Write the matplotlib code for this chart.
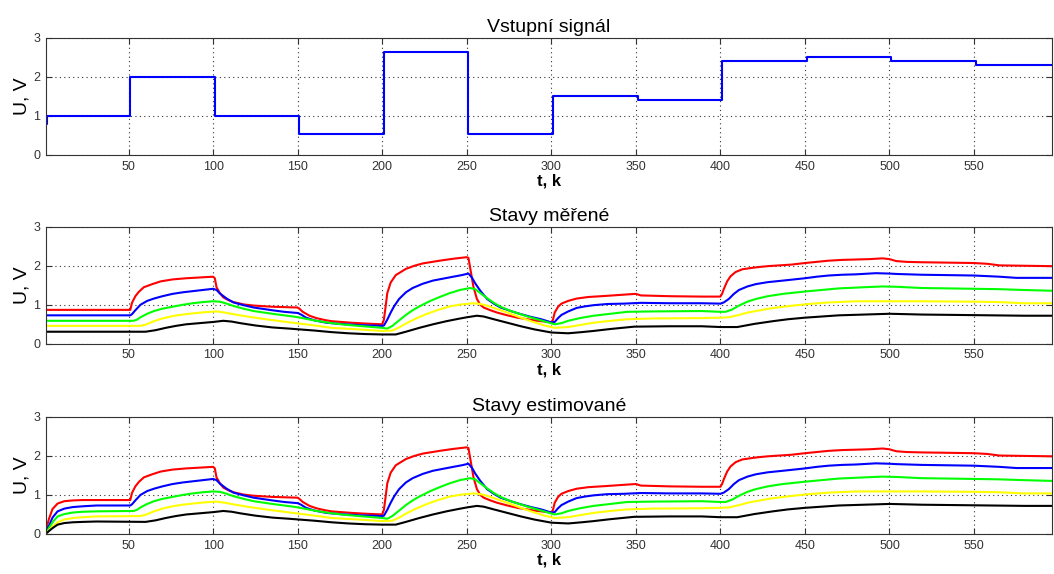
import matplotlib
matplotlib.use('Agg')
import matplotlib.pyplot as plt
import numpy as np

# input signal (step changes, held until next change)
u_k = [1, 2, 51, 101, 151, 201, 251, 301, 351, 401, 451, 501, 551, 596]
u_v = [0.8, 1.0, 2.0, 1.0, 0.55, 2.65, 0.55, 1.5, 1.4, 2.4, 2.5, 2.4, 2.3, 2.3]

# measured states
red_k = [1, 51, 52, 54, 56, 59, 64, 69, 76, 84, 92, 100, 101, 102, 104, 106, 109, 112, 118, 124,
         135, 150, 151, 153, 157, 161, 166, 170, 176, 182, 190, 200, 201, 202, 203, 205, 208, 214,
         219, 224, 234, 242, 250, 251, 252, 253, 254, 256, 258, 260, 264, 268, 274, 280, 290, 300,
         301, 302, 304, 306, 310, 315, 322, 333, 343, 350, 353, 370, 389, 400, 401, 402, 404, 406,
         409, 413, 421, 428, 435, 442, 450, 457, 464, 472, 480, 488, 496, 500, 504, 510, 519, 535,
         550, 558, 565, 580, 596]
red_v = [0.87, 0.87, 1.05, 1.22, 1.33, 1.45, 1.53, 1.60, 1.65, 1.68, 1.70, 1.72, 1.68, 1.45, 1.30,
         1.19, 1.12, 1.07, 1.01, 0.98, 0.95, 0.93, 0.90, 0.82, 0.72, 0.66, 0.61, 0.58, 0.56, 0.54,
         0.52, 0.50, 0.62, 0.95, 1.30, 1.57, 1.76, 1.92, 2.00, 2.06, 2.13, 2.18, 2.22, 2.20, 1.95,
         1.70, 1.45, 1.15, 1.00, 0.93, 0.86, 0.80, 0.73, 0.67, 0.60, 0.55, 0.62, 0.80, 0.95, 1.03,
         1.10, 1.16, 1.20, 1.23, 1.26, 1.28, 1.24, 1.22, 1.21, 1.21, 1.28, 1.40, 1.60, 1.73, 1.84,
         1.91, 1.96, 1.99, 2.01, 2.03, 2.07, 2.10, 2.13, 2.15, 2.16, 2.17, 2.19, 2.17, 2.12, 2.10,
         2.09, 2.08, 2.07, 2.05, 2.01, 2.00, 1.99]

blue_k = [1, 51, 52, 54, 57, 61, 65, 70, 76, 82, 88, 94, 100, 102, 104, 108, 112, 118, 124, 135,
          142, 150, 152, 155, 160, 167, 175, 186, 200, 201, 203, 205, 207, 210, 214, 218, 224, 230,
          236, 242, 247, 251, 253, 255, 258, 262, 266, 270, 276, 282, 288, 294, 300, 302, 304, 306,
          310, 315, 320, 325, 333, 343, 353, 370, 389, 400, 402, 405, 408, 411, 416, 421, 428, 437,
          450, 457, 464, 472, 480, 492, 500, 504, 519, 535, 550, 565, 575, 596]
blue_v = [0.73, 0.73, 0.76, 0.86, 1.00, 1.10, 1.16, 1.22, 1.28, 1.32, 1.35, 1.38, 1.41, 1.38, 1.29,
          1.16, 1.06, 0.99, 0.93, 0.86, 0.82, 0.79, 0.75, 0.67, 0.60, 0.54, 0.51, 0.48, 0.46, 0.47,
          0.62, 0.80, 0.96, 1.15, 1.32, 1.43, 1.54, 1.62, 1.67, 1.72, 1.76, 1.80, 1.70, 1.55, 1.36,
          1.15, 1.03, 0.93, 0.84, 0.76, 0.69, 0.63, 0.55, 0.56, 0.66, 0.74, 0.83, 0.92, 0.96, 0.99,
          1.02, 1.03, 1.05, 1.04, 1.04, 1.03, 1.06, 1.15, 1.28, 1.38, 1.47, 1.53, 1.58, 1.62, 1.68,
          1.72, 1.75, 1.77, 1.78, 1.81, 1.80, 1.79, 1.77, 1.76, 1.75, 1.72, 1.69, 1.69]

green_k = [1, 53, 55, 57, 61, 65, 70, 76, 82, 88, 94, 100, 104, 108, 112, 118, 124, 135, 149, 155,
           161, 170, 178, 186, 200, 203, 206, 210, 214, 218, 222, 228, 234, 240, 246, 252, 255, 258,
           262, 266, 270, 276, 286, 294, 302, 306, 310, 317, 325, 335, 345, 360, 389, 400, 403, 407,
           411, 416, 421, 428, 437, 450, 460, 470, 485, 496, 505, 519, 535, 550, 565, 579, 596]
green_v = [0.59, 0.59, 0.62, 0.68, 0.77, 0.84, 0.90, 0.95, 1.00, 1.04, 1.07, 1.09, 1.08, 1.03, 0.97,
           0.90, 0.84, 0.77, 0.69, 0.64, 0.59, 0.53, 0.49, 0.46, 0.41, 0.39, 0.46, 0.60, 0.74, 0.86,
           0.96, 1.09, 1.20, 1.30, 1.38, 1.43, 1.40, 1.30, 1.17, 1.05, 0.95, 0.84, 0.70, 0.60, 0.50,
           0.53, 0.59, 0.66, 0.72, 0.77, 0.82, 0.83, 0.84, 0.82, 0.82, 0.88, 0.98, 1.08, 1.15, 1.22,
           1.28, 1.34, 1.38, 1.42, 1.45, 1.47, 1.46, 1.43, 1.42, 1.41, 1.40, 1.38, 1.36]

yellow_k = [1, 57, 60, 65, 70, 76, 82, 88, 95, 102, 107, 112, 120, 131, 140, 149, 160, 170, 186, 200,
            206, 210, 214, 220, 226, 233, 240, 247, 254, 258, 262, 268, 274, 282, 290, 296, 302, 310,
            318, 325, 335, 345, 360, 389, 400, 405, 411, 416, 421, 430, 441, 452, 464, 480, 519, 550,
            565, 579, 596]
yellow_v = [0.46, 0.46, 0.49, 0.58, 0.65, 0.71, 0.75, 0.78, 0.81, 0.83, 0.80, 0.76, 0.70, 0.63, 0.58,
            0.53, 0.47, 0.41, 0.37, 0.33, 0.34, 0.42, 0.52, 0.65, 0.76, 0.87, 0.96, 1.01, 1.04, 1.02,
            0.98, 0.89, 0.80, 0.67, 0.55, 0.47, 0.41, 0.43, 0.49, 0.54, 0.59, 0.63, 0.65, 0.66, 0.67,
            0.68, 0.74, 0.80, 0.84, 0.91, 0.97, 1.02, 1.06, 1.09, 1.09, 1.08, 1.07, 1.04, 1.04]

black_k = [1, 60, 66, 72, 78, 84, 92, 100, 106, 111, 116, 125, 135, 145, 151, 160, 170, 180, 190, 200,
           208, 214, 222, 230, 238, 245, 250, 256, 260, 266, 274, 282, 290, 300, 310, 318, 325, 335,
           349, 370, 389, 400, 410, 420, 431, 440, 450, 460, 470, 485, 500, 510, 519, 540, 560, 580, 596]
black_v = [0.31, 0.31, 0.35, 0.41, 0.46, 0.50, 0.53, 0.56, 0.59, 0.57, 0.53, 0.47, 0.42, 0.39, 0.37,
           0.34, 0.30, 0.27, 0.25, 0.24, 0.24, 0.31, 0.41, 0.50, 0.58, 0.64, 0.68, 0.72, 0.70, 0.63,
           0.54, 0.45, 0.37, 0.29, 0.27, 0.30, 0.33, 0.38, 0.44, 0.45, 0.45, 0.43, 0.43, 0.51, 0.58,
           0.63, 0.67, 0.70, 0.73, 0.75, 0.77, 0.76, 0.75, 0.74, 0.73, 0.72, 0.72]

# estimator start-up transient (after that it follows the measured states)
est_k = [1, 2, 3, 5, 8, 12, 17, 23, 31]
red_est = [0.03, 0.25, 0.40, 0.64, 0.78, 0.84, 0.86, 0.87, 0.87]
blue_est = [0.02, 0.12, 0.22, 0.42, 0.58, 0.65, 0.69, 0.71, 0.73]
green_est = [0.02, 0.08, 0.16, 0.30, 0.45, 0.51, 0.55, 0.57, 0.58]
yellow_est = [0.01, 0.05, 0.10, 0.19, 0.30, 0.37, 0.41, 0.43, 0.45]
black_est = [0.01, 0.04, 0.08, 0.15, 0.24, 0.28, 0.30, 0.31, 0.32]

measured = [(red_k, red_v, 'r'), (blue_k, blue_v, 'b'), (green_k, green_v, (0, 1, 0)),
            (yellow_k, yellow_v, (1, 1, 0)), (black_k, black_v, 'k')]
starts = [red_est, blue_est, green_est, yellow_est, black_est]

plt.rcParams['font.family'] = ['Liberation Sans', 'DejaVu Sans']

fig = plt.figure(figsize=(10.54, 5.74), dpi=100)
left, width, height = 0.0434, 0.9545, 0.204
bottoms = [0.730, 0.401, 0.0697]
titles = ['Vstupní signál', 'Stavy měřené', 'Stavy estimované']
axes = [fig.add_axes([left, b, width, height]) for b in bottoms]
LW = 1.5


def style(ax, title):
    ax.set_xlim(1, 596)
    ax.set_ylim(0, 3)
    ax.set_xticks(np.arange(50, 551, 50))
    ax.set_yticks([0, 1, 2, 3])
    ax.grid(True, linestyle=(0, (1, 3)), color='#333333', linewidth=0.8)
    ax.tick_params(direction='in', length=4, labelsize=9, colors='#333333',
                   labelcolor='#333333', top=True, right=True, pad=4)
    for s in ax.spines.values():
        s.set_color('#333333')
    ax.set_title(title, fontsize=14, pad=4)
    ax.set_xlabel('t, k', fontsize=12, fontweight='bold', labelpad=1)
    ax.set_ylabel('U, V', fontsize=14, labelpad=2)


ax = axes[0]
ax.step(u_k, u_v, where='post', color='b', linewidth=LW)
style(ax, titles[0])

ax = axes[1]
for k, v, c in measured:
    ax.plot(k, v, color=c, linewidth=LW)
style(ax, titles[1])

ax = axes[2]
for (k, v, c), s in zip(measured, starts):
    kk = est_k + [x for x in k if x > est_k[-1]]
    vv = s + [y for x, y in zip(k, v) if x > est_k[-1]]
    ax.plot(kk, vv, color=c, linewidth=LW)
style(ax, titles[2])

fig.savefig('out.png', dpi=100)
